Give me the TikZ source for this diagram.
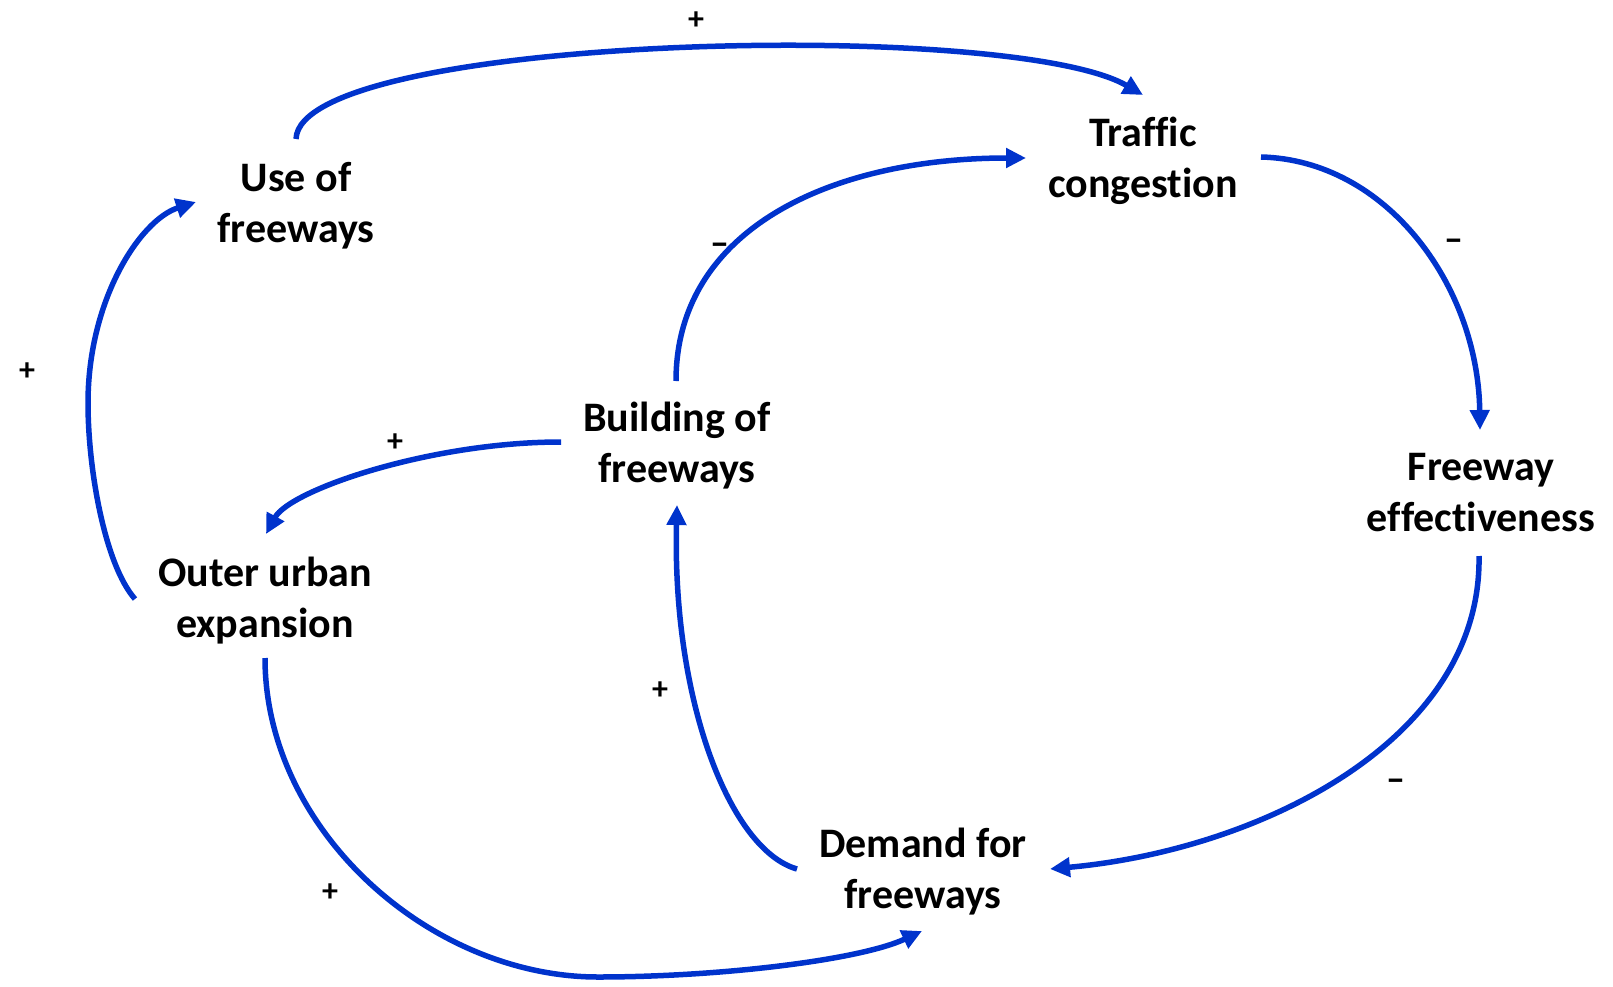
\documentclass[tikz,border=0pt]{standalone}
\usepackage{fontspec}
\setmainfont{Carlito}[Ligatures=NoCommon]
\usetikzlibrary{arrows.meta,calc}
\definecolor{loopblue}{RGB}{0,51,204}
\tikzset{
  factor/.style={font=\bfseries\fontsize{42}{51}\selectfont, align=center, inner sep=0pt},
  sign/.style={font=\bfseries\fontsize{32}{36}\selectfont, inner sep=0pt},
  minus/.style={font=\bfseries\fontsize{38}{40}\selectfont, inner sep=0pt},
  link/.style={draw=loopblue, line width=5.5pt, -{Triangle[length=20pt,width=19pt]}},
}
\begin{document}
\begin{tikzpicture}[x=1pt,y=-1pt]
\useasboundingbox (0,0) rectangle (1613,987);

% variables of the loop
\node[factor] (use)      at (296,206)  {Use of\\freeways};
\node[factor] (traffic)  at (1143,161) {Traffic\\congestion};
\node[factor] (effect)   at (1481,493) {Freeway\\effectiveness};
\node[factor] (building) at (677,446)  {Building of\\freeways};
\node[factor] (outer)    at (265,601)  {Outer urban\\expansion};
\node[factor] (demand)   at (923,872)  {Demand for\\freeways};

% turning points of the two long outer links
\coordinate (leftturn)   at (88,403);
\coordinate (bottomturn) at (598,977);

% causal links
\draw[link] ($(use)+(0,-67)$) .. controls +(4,-104) and +(-133,-77) .. ($(traffic)+(0,-66)$);
\draw[link] ($(traffic)+(118,-4)$) .. controls +(125,3) and +(-2,-145) .. ($(effect)+(-1,-63)$);
\draw[link] ($(effect)+(-2,63)$) .. controls +(3,184) and +(210,-19) .. ($(demand)+(127,-3)$);
\draw[link] ($(demand)+(-126,-3)$) .. controls +(-67,-19) and +(-5,195) .. ($(building)+(0,59)$);
\draw[link] ($(building)+(-1,-65)$) .. controls +(0,-151) and +(-196,0) .. ($(traffic)+(-117,-3)$);
\draw[link] ($(building)+(-116,-4)$) .. controls +(-131,0) and +(24,-44) .. ($(outer)+(1,-67)$);
\draw[link] ($(outer)+(-130,-2)$) .. controls +(-30,-34) and +(0,67) .. (leftturn)
            .. controls +(0,-103) and +(-56,18) .. ($(use)+(-100,-4)$);
\draw[link] ($(outer)+(0,57)$) .. controls +(0,172) and +(-168,0) .. (bottomturn)
            .. controls +(122,0) and +(-62,29) .. ($(demand)+(-1,59)$);

% polarities
\node[sign]  (s1) at (696,21)   {+};
\node[minus] (s2) at (720,249)  {–};
\node[minus] (s3) at (1454,245) {–};
\node[sign]  (s4) at (27,372)   {+};
\node[sign]  (s5) at (395,443)  {+};
\node[sign]  (s6) at (660,691)  {+};
\node[minus] (s7) at (1396,785) {–};
\node[sign]  (s8) at (330,893)  {+};
\end{tikzpicture}
\end{document}
